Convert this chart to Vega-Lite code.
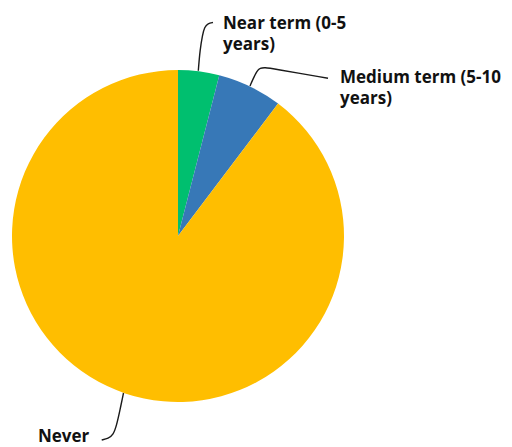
{
  "$schema": "https://vega.github.io/schema/vega-lite/v6.json",
  "width": 512,
  "height": 447,
  "padding": 0,
  "autosize": {"type": "fit", "contains": "padding"},
  "background": "white",
  "config": {"view": {"stroke": null}},
  "layer": [
    {
      "data": {"values": [
        {"category": "Near term (0-5 years)", "value": 4.0, "order": 1},
        {"category": "Medium term (5-10 years)", "value": 6.3, "order": 2},
        {"category": "Never", "value": 89.7, "order": 3}
      ]},
      "mark": {"type": "arc", "outerRadius": 166, "strokeWidth": 0},
      "encoding": {
        "theta": {"field": "value", "type": "quantitative", "stack": true},
        "order": {"field": "order", "type": "quantitative"},
        "color": {"field": "category", "type": "nominal", "legend": null,
          "scale": {"domain": ["Near term (0-5 years)", "Medium term (5-10 years)", "Never"], "range": ["#00BF6F", "#3778B7", "#FFBE00"]}},
        "x": {"datum": 0, "type": "quantitative", "axis": null, "scale": {"domain": [-1.07229, 2.01205], "nice": false, "zero": false}},
        "y": {"datum": 0, "type": "quantitative", "axis": null, "scale": {"domain": [-1.27108, 1.42169], "nice": false, "zero": false}}
      }
    },
    {
      "data": {"values": [
        {"label": "near", "i": 1, "x": 0.1223, "y": 0.9958},
        {"label": "near", "i": 2, "x": 0.1325, "y": 1.1205},
        {"label": "near", "i": 3, "x": 0.1476, "y": 1.2108},
        {"label": "near", "i": 4, "x": 0.1596, "y": 1.2590},
        {"label": "near", "i": 5, "x": 0.1807, "y": 1.2801},
        {"label": "near", "i": 6, "x": 0.2108, "y": 1.2861},
        {"label": "medium", "i": 1, "x": 0.4337, "y": 0.9036},
        {"label": "medium", "i": 2, "x": 0.4548, "y": 0.9518},
        {"label": "medium", "i": 3, "x": 0.4759, "y": 0.9940},
        {"label": "medium", "i": 4, "x": 0.4940, "y": 1.0120},
        {"label": "medium", "i": 5, "x": 0.5241, "y": 1.0151},
        {"label": "medium", "i": 6, "x": 0.5663, "y": 1.0090},
        {"label": "medium", "i": 7, "x": 0.9036, "y": 0.9500},
        {"label": "never", "i": 1, "x": -0.3283, "y": -0.9458},
        {"label": "never", "i": 2, "x": -0.3494, "y": -1.0482},
        {"label": "never", "i": 3, "x": -0.3693, "y": -1.1386},
        {"label": "never", "i": 4, "x": -0.3898, "y": -1.1988},
        {"label": "never", "i": 5, "x": -0.4199, "y": -1.2187},
        {"label": "never", "i": 6, "x": -0.4596, "y": -1.2289}
      ]},
      "mark": {"type": "line", "interpolate": "basis", "color": "#1a1a1a", "strokeWidth": 1.4},
      "encoding": {
        "x": {"field": "x", "type": "quantitative"},
        "y": {"field": "y", "type": "quantitative"},
        "detail": {"field": "label"},
        "order": {"field": "i", "type": "quantitative"}
      }
    },
    {
      "data": {"values": [
        {"text": "Near term (0-5\nyears)", "x": 0.2711, "y": 1.2470},
        {"text": "Medium term (5-10\nyears)", "x": 0.9759, "y": 0.9217},
        {"text": "Never", "x": -0.8434, "y": -1.2410}
      ]},
      "mark": {"type": "text", "align": "left", "baseline": "alphabetic", "font": "Open Sans", "fontWeight": "bold", "fontSize": 17, "lineHeight": 21, "lineBreak": "\n", "color": "#111111"},
      "encoding": {
        "x": {"field": "x", "type": "quantitative"},
        "y": {"field": "y", "type": "quantitative"},
        "text": {"field": "text"}
      }
    }
  ]
}
